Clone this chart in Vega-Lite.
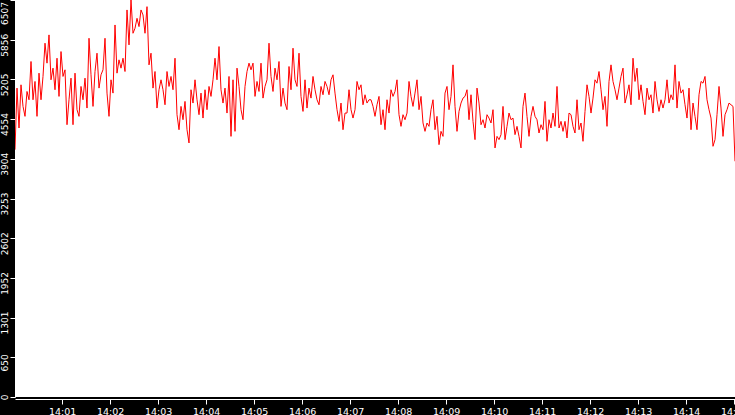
{
"$schema": "https://vega.github.io/schema/vega-lite/v6.json",
"width": 720, "height": 397,
"autosize": {"type": "none"},
"padding": {"left": 15, "top": 0, "right": 0, "bottom": 18},
"background": "black",
"config": {"view": {"fill": "white", "stroke": null},
 "axis": {"grid": false, "domainColor": "white", "tickColor": "white", "labelColor": "white", "labelFont": "DejaVu Sans", "title": null, "tickSize": 5, "domainWidth": 1, "tickWidth": 1}},
"data": {"values": [
{"t":1,"v":4054},{"t":3.5,"v":5063},{"t":6,"v":4409},{"t":8.5,"v":5117},{"t":11,"v":4763},{"t":13.5,"v":4600},{"t":16,"v":5008},{"t":18.5,"v":4872},{"t":21,"v":5499},{"t":23.5,"v":4872},
{"t":26,"v":5172},{"t":28.5,"v":4600},{"t":31,"v":5308},{"t":33.5,"v":4872},{"t":36,"v":5254},{"t":38.5,"v":5799},{"t":41,"v":5472},{"t":43.5,"v":5935},{"t":46,"v":5199},{"t":48.5,"v":5390},
{"t":51,"v":5036},{"t":53.5,"v":5553},{"t":56,"v":4927},{"t":58.5,"v":5662},{"t":61,"v":5254},{"t":63.5,"v":5363},{"t":66,"v":4463},{"t":68.5,"v":4872},{"t":71,"v":5226},{"t":73.5,"v":4463},
{"t":76,"v":5308},{"t":78.5,"v":4709},{"t":81,"v":4600},{"t":83.5,"v":5090},{"t":86,"v":4872},{"t":88.5,"v":5226},{"t":91,"v":4736},{"t":93.5,"v":5880},{"t":96,"v":5281},{"t":98.5,"v":4763},
{"t":101,"v":5335},{"t":103.5,"v":5635},{"t":106,"v":5063},{"t":108.5,"v":5281},{"t":111,"v":5363},{"t":113.5,"v":5880},{"t":116,"v":4981},{"t":118.5,"v":4600},{"t":121,"v":5199},{"t":123.5,"v":4981},
{"t":126,"v":6098},{"t":128.5,"v":5308},{"t":131,"v":5526},{"t":133.5,"v":5390},{"t":136,"v":5553},{"t":138.5,"v":5335},{"t":141,"v":6344},{"t":143.5,"v":5771},{"t":146,"v":6507},{"t":148.5,"v":5962},
{"t":151,"v":6044},{"t":153.5,"v":6207},{"t":156,"v":6071},{"t":158.5,"v":6344},{"t":161,"v":6262},{"t":163.5,"v":5962},{"t":166,"v":6398},{"t":168.5,"v":5444},{"t":171,"v":5635},{"t":173.5,"v":5063},
{"t":176,"v":5335},{"t":178.5,"v":4736},{"t":181,"v":5036},{"t":183.5,"v":5199},{"t":186,"v":5036},{"t":188.5,"v":4790},{"t":191,"v":5335},{"t":193.5,"v":5090},{"t":196,"v":5254},{"t":198.5,"v":5036},
{"t":201,"v":5553},{"t":203.5,"v":4627},{"t":206,"v":4381},{"t":208.5,"v":4763},{"t":211,"v":4545},{"t":213.5,"v":4845},{"t":216,"v":4381},{"t":218.5,"v":4164},{"t":221,"v":5036},{"t":223.5,"v":4818},
{"t":226,"v":5199},{"t":228.5,"v":4872},{"t":231,"v":4627},{"t":233.5,"v":4981},{"t":236,"v":4572},{"t":238.5,"v":5036},{"t":241,"v":4709},{"t":243.5,"v":5090},{"t":246,"v":4927},{"t":248.5,"v":5199},
{"t":251,"v":5553},{"t":253.5,"v":5199},{"t":256,"v":5744},{"t":258.5,"v":5036},{"t":261,"v":4818},{"t":263.5,"v":5063},{"t":266,"v":4654},{"t":268.5,"v":5254},{"t":271,"v":4272},{"t":273.5,"v":5199},
{"t":276,"v":4354},{"t":278.5,"v":5390},{"t":281,"v":5090},{"t":283.5,"v":4709},{"t":286,"v":4545},{"t":288.5,"v":5090},{"t":291,"v":5335},{"t":293.5,"v":5472},{"t":296,"v":5363},{"t":298.5,"v":5472},
{"t":301,"v":4927},{"t":303.5,"v":5172},{"t":306,"v":5008},{"t":308.5,"v":5472},{"t":311,"v":4899},{"t":313.5,"v":5090},{"t":316,"v":5199},{"t":318.5,"v":5799},{"t":321,"v":5254},{"t":323.5,"v":5008},
{"t":326,"v":5390},{"t":328.5,"v":5199},{"t":331,"v":5499},{"t":333.5,"v":4763},{"t":336,"v":5063},{"t":338.5,"v":4818},{"t":341,"v":4709},{"t":343.5,"v":5417},{"t":346,"v":5036},{"t":348.5,"v":5717},
{"t":351,"v":5199},{"t":353.5,"v":5090},{"t":356,"v":5635},{"t":358.5,"v":4927},{"t":361,"v":4681},{"t":363.5,"v":5199},{"t":366,"v":4736},{"t":368.5,"v":5063},{"t":371,"v":4899},{"t":373.5,"v":5254},
{"t":376,"v":5036},{"t":378.5,"v":4872},{"t":381,"v":4790},{"t":383.5,"v":5090},{"t":386,"v":4954},{"t":388.5,"v":5172},{"t":391,"v":5090},{"t":393.5,"v":4954},{"t":396,"v":5199},{"t":398.5,"v":5281},
{"t":401,"v":4981},{"t":403.5,"v":4709},{"t":406,"v":4518},{"t":408.5,"v":4818},{"t":411,"v":4381},{"t":413.5,"v":4654},{"t":416,"v":4654},{"t":418.5,"v":5036},{"t":421,"v":4709},{"t":423.5,"v":4572},
{"t":426,"v":4709},{"t":428.5,"v":5172},{"t":431,"v":5036},{"t":433.5,"v":5117},{"t":436,"v":4790},{"t":438.5,"v":4954},{"t":441,"v":4818},{"t":443.5,"v":4872},{"t":446,"v":4872},{"t":448.5,"v":4763},
{"t":451,"v":4600},{"t":453.5,"v":4790},{"t":456,"v":4927},{"t":458.5,"v":4463},{"t":461,"v":4709},{"t":463.5,"v":4381},{"t":466,"v":4872},{"t":468.5,"v":4654},{"t":471,"v":5036},{"t":473.5,"v":4927},
{"t":476,"v":5008},{"t":478.5,"v":5199},{"t":481,"v":4627},{"t":483.5,"v":4436},{"t":486,"v":4627},{"t":488.5,"v":4545},{"t":491,"v":4654},{"t":493.5,"v":5172},{"t":496,"v":4927},{"t":498.5,"v":4763},
{"t":501,"v":4981},{"t":503.5,"v":5199},{"t":506,"v":4709},{"t":508.5,"v":4927},{"t":511,"v":4491},{"t":513.5,"v":4354},{"t":516,"v":4491},{"t":518.5,"v":4436},{"t":521,"v":4709},{"t":523.5,"v":4872},
{"t":526,"v":4381},{"t":528.5,"v":4600},{"t":531,"v":4136},{"t":533.5,"v":4354},{"t":536,"v":4272},{"t":538.5,"v":4981},{"t":541,"v":5090},{"t":543.5,"v":4709},{"t":546,"v":4927},{"t":548.5,"v":5444},
{"t":551,"v":4763},{"t":553.5,"v":4354},{"t":556,"v":4681},{"t":558.5,"v":4818},{"t":561,"v":4899},{"t":563.5,"v":4927},{"t":566,"v":5036},{"t":568.5,"v":4545},{"t":571,"v":4954},{"t":573.5,"v":4518},
{"t":576,"v":4218},{"t":578.5,"v":5063},{"t":581,"v":4818},{"t":583.5,"v":4463},{"t":586,"v":4545},{"t":588.5,"v":4409},{"t":591,"v":4627},{"t":593.5,"v":4572},{"t":596,"v":4491},{"t":598.5,"v":4709},
{"t":601,"v":4082},{"t":603.5,"v":4272},{"t":606,"v":4218},{"t":608.5,"v":4300},{"t":611,"v":4763},{"t":613.5,"v":4218},{"t":616,"v":4436},{"t":618.5,"v":4654},{"t":621,"v":4545},{"t":623.5,"v":4572},
{"t":626,"v":4300},{"t":628.5,"v":4436},{"t":631,"v":4272},{"t":633.5,"v":4082},{"t":636,"v":4763},{"t":638.5,"v":4981},{"t":641,"v":4600},{"t":643.5,"v":4272},{"t":646,"v":4600},{"t":648.5,"v":4763},
{"t":651,"v":4600},{"t":653.5,"v":4545},{"t":656,"v":4327},{"t":658.5,"v":4463},{"t":661,"v":4381},{"t":663.5,"v":4845},{"t":666,"v":4191},{"t":668.5,"v":4545},{"t":671,"v":4409},{"t":673.5,"v":4654},
{"t":676,"v":4436},{"t":678.5,"v":5090},{"t":681,"v":4409},{"t":683.5,"v":4518},{"t":686,"v":4354},{"t":688.5,"v":4518},{"t":691,"v":4245},{"t":693.5,"v":4654},{"t":696,"v":4627},{"t":698.5,"v":4436},
{"t":701,"v":4327},{"t":703.5,"v":4872},{"t":706,"v":4381},{"t":708.5,"v":4491},{"t":711,"v":4191},{"t":713.5,"v":4681},{"t":716,"v":5117},{"t":718.5,"v":4927},{"t":721,"v":4654},{"t":723.5,"v":4899},
{"t":726,"v":5199},{"t":728.5,"v":5144},{"t":731,"v":5335},{"t":733.5,"v":5036},{"t":736,"v":4709},{"t":738.5,"v":4927},{"t":741,"v":4436},{"t":743.5,"v":5172},{"t":746,"v":5444},{"t":748.5,"v":5172},
{"t":751,"v":5036},{"t":753.5,"v":4872},{"t":756,"v":5063},{"t":758.5,"v":5254},{"t":761,"v":5390},{"t":763.5,"v":4818},{"t":766,"v":4954},{"t":768.5,"v":5117},{"t":771,"v":4790},{"t":773.5,"v":5553},
{"t":776,"v":5172},{"t":778.5,"v":5390},{"t":781,"v":4872},{"t":783.5,"v":5117},{"t":786,"v":4845},{"t":788.5,"v":4627},{"t":791,"v":5063},{"t":793.5,"v":4872},{"t":796,"v":4954},{"t":798.5,"v":4654},
{"t":801,"v":5172},{"t":803.5,"v":4872},{"t":806,"v":4681},{"t":808.5,"v":4872},{"t":811,"v":4736},{"t":813.5,"v":4872},{"t":816,"v":5199},{"t":818.5,"v":4818},{"t":821,"v":4954},{"t":823.5,"v":4872},
{"t":826,"v":5444},{"t":828.5,"v":4736},{"t":831,"v":5172},{"t":833.5,"v":4981},{"t":836,"v":5036},{"t":838.5,"v":4790},{"t":841,"v":4572},{"t":843.5,"v":5063},{"t":846,"v":4381},{"t":848.5,"v":4818},
{"t":851,"v":4600},{"t":853.5,"v":4381},{"t":856,"v":4954},{"t":858.5,"v":5172},{"t":861,"v":5144},{"t":863.5,"v":5254},{"t":866,"v":4872},{"t":868.5,"v":4709},{"t":871,"v":4572},{"t":873.5,"v":4109},
{"t":876,"v":4218},{"t":878.5,"v":4627},{"t":881,"v":5090},{"t":883.5,"v":4736},{"t":886,"v":4272},{"t":888.5,"v":4627},{"t":891,"v":4709},{"t":893.5,"v":4818},{"t":896,"v":4790},{"t":898.5,"v":4763},
{"t":901,"v":3864}
]},
"mark": {"type": "line", "color": "#ff0000", "strokeWidth": 1, "clip": true},
"encoding": {
 "x": {"field": "t", "type": "quantitative",
  "scale": {"domain": [1, 901], "nice": false, "zero": false},
  "axis": {"values": [60,120,180,240,300,360,420,480,540,600,660,720,780,840,900],
   "labelExpr": "'14:' + (datum.value < 600 ? '0' : '') + (datum.value / 60)",
   "offset": 2, "labelFontSize": 9.5, "labelPadding": 2, "labelOverlap": false, "labelFlush": false, "labelBound": false}},
 "y": {"field": "v", "type": "quantitative",
  "scale": {"domain": [0, 6507], "nice": false, "zero": true},
  "axis": {"values": [0,650.7,1301.4,1952.1,2602.8,3253.5,3904.2,4554.9,5205.6,5856.3,6507],
   "labelExpr": "floor(datum.value)", "labelAngle": -90, "labelFontSize": 9, "labelPadding": 1,
   "labelOffset": {"condition": [{"test": "datum.value == 0", "value": 0}, {"test": "datum.value > 6500", "value": 13}], "value": 5},
   "labelFlush": false, "labelOverlap": false}}
}
}
